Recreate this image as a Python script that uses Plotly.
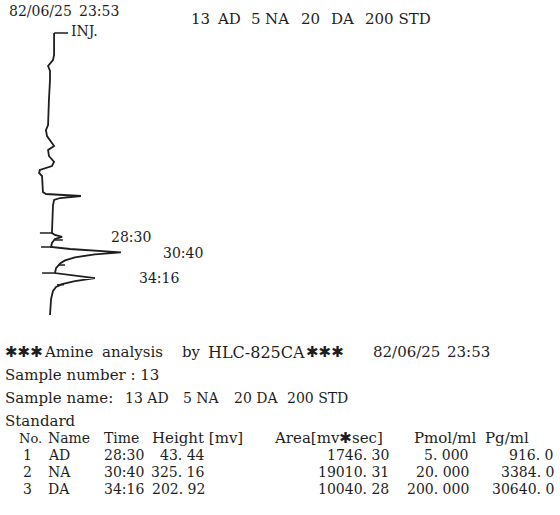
import plotly.graph_objects as go

# ---- chromatogram trace (time in min runs downward, detector signal in mV to the right)
trace_time = [0.0, 3.08, 3.78, 4.62, 5.31, 6.57, 9.37, 12.87, 13.57, 14.41, 15.38, 15.80,
              16.36, 17.20, 18.04, 18.60, 19.16, 19.58, 20.00, 22.24, 22.52, 22.80, 23.08,
              23.36, 24.06, 27.97, 28.25, 28.50, 28.81, 29.37, 29.93, 30.21, 30.67, 30.95,
              31.37, 31.80, 32.24, 32.90, 33.57, 34.27, 34.70, 35.12, 35.52, 36.08, 37.20, 39.44]
trace_signal = [19, 19, 14, -9, 0, 0, -5, -9, -19, -14, 9, 19,
                -9, -5, 19, 9, -47, -51, -37, -33, -19, 144, 47,
                19, 14, 9, 23, 56, 23, 9, 5, 93, 330, 209,
                116, 70, 47, 28, 23, 209, 116, 56, 28, 14, 5, 0]

# ---- integration marks (baseline ticks)
tick_time = [27.97, 29.93, 33.57, 28.95, 32.45, 35.20]
tick_start = [-47, -42, -37, 23, 37, 33]
tick_end = [14, 14, 19, 60, 70, 65]

# ---- injection marker
inj_time = [0.0, 0.0]
inj_signal = [19, 84]

# ---- peak labels
peak_labels = ["28:30", "30:40", "34:16"]

# ---- report text
run_date = "82/06/25"
run_clock = "23:53"
title_tokens = ["13", "AD", "5", "NA", "20", "DA", "200 STD"]
line1_tokens = ["✱✱✱", "Amine", "analysis", "by", "HLC-825CA", "✱✱✱"]
sample_number = "Sample number : 13"
name_tokens = ["Sample name:", "13 AD", "5 NA", "20 DA", "200 STD"]
section = "Standard"
col_headers = ["No.", "Name", "Time", "Height [mv]", "Area[mv✱sec]", "Pmol/ml", "Pg/ml"]
row_no = ["1", "2", "3"]
row_name = ["AD", "NA", "DA"]
row_time = ["28:30", "30:40", "34:16"]
row_height = ["43. 44", "325. 16", "202. 92"]
row_area = ["1746. 30", "19010. 31", "10040. 28"]
row_pmol = ["5. 000", "20. 000", "200. 000"]
row_pg = ["916. 0", "3384. 0", "30640. 0"]

W, H = 560, 515
INK = "#1e1e1e"
FONT = "DejaVu Serif, DejaVu Sans, Noto Sans CJK JP, serif"

fig = go.Figure()
fig.add_trace(go.Scatter(x=trace_signal, y=trace_time, mode="lines",
                         line=dict(color=INK, width=1.8),
                         hoverinfo="skip", showlegend=False))
tx, ty = [], []
for t, a, b in zip(tick_time, tick_start, tick_end):
    tx += [a, b, None]
    ty += [t, t, None]
fig.add_trace(go.Scatter(x=tx, y=ty, mode="lines", line=dict(color=INK, width=1.5),
                         hoverinfo="skip", showlegend=False))
fig.add_trace(go.Scatter(x=inj_signal, y=inj_time, mode="lines", line=dict(color=INK, width=1.5),
                         hoverinfo="skip", showlegend=False))


def px(x):
    return x / W


def py(y):
    return 1 - y / H


anns = []


def txt(s, x, y, size=15, anchor="left"):
    anns.append(dict(text=s, x=px(x), y=py(y), xref="paper", yref="paper",
                     xanchor=anchor, yanchor="middle", showarrow=False, borderpad=0,
                     font=dict(family=FONT, size=size, color=INK)))


# header of the chart
txt(run_date, 8, 11, 14)
txt(run_clock, 78, 11, 14)
for s, x in zip(title_tokens, [190, 216, 250, 264, 300, 330, 364]):
    txt(s, x, 19, 15)
txt("INJ.", 70, 31, 14)
txt(peak_labels[0], 110, 237, 14)
txt(peak_labels[1], 162, 253, 14)
txt(peak_labels[2], 138, 278, 14)

# report
for s, x, f in zip(line1_tokens, [4, 43, 101, 181, 207, 305], [15, 15, 15, 15, 16, 15]):
    txt(s, x, 352, f)
txt(run_date, 372, 352, 15)
txt(run_clock, 446, 352, 15)
txt(sample_number, 4, 375, 15)
for s, x, f in zip(name_tokens, [4, 124, 182, 233, 286], [15, 14, 14, 14, 14]):
    txt(s, x, 398, f)
txt(section, 4, 421, 15)

hy = 438
for s, x, f in zip(col_headers, [18, 47, 103, 151, 273, 413, 484], [13, 14, 14, 15, 15, 15, 15]):
    txt(s, x, hy, f)
ry = [455, 472, 489]
for i in range(3):
    txt(row_no[i], 27, ry[i], 14, "center")
    txt(row_name[i], 47, ry[i], 14)
    txt(row_time[i], 103, ry[i], 14)
    txt(row_height[i], 206, ry[i], 14, "right")
    txt(row_area[i], 390, ry[i], 14, "right")
    txt(row_pmol[i], 470, ry[i], 14, "right")
    txt(row_pg[i], 555, ry[i], 14, "right")

# plot area mapping (page px): signal px = 50 + 0.215*mV ; time px = 33 + 7.15*min
x_px = (20, 170)
y_px = (25, 320)
fig.update_layout(
    width=W, height=H, margin=dict(l=0, r=0, t=0, b=0),
    paper_bgcolor="white", plot_bgcolor="white",
    xaxis=dict(domain=[px(x_px[0]), px(x_px[1])],
               range=[(x_px[0] - 50) / 0.215, (x_px[1] - 50) / 0.215],
               visible=False, fixedrange=True),
    yaxis=dict(domain=[py(y_px[1]), py(y_px[0])],
               range=[(y_px[1] - 33) / 7.15, (y_px[0] - 33) / 7.15],
               visible=False, fixedrange=True),
    annotations=anns,
)
fig.write_html("out.html", config={"displayModeBar": False},
               post_script="document.body.style.margin='0';document.body.style.overflow='hidden';")
